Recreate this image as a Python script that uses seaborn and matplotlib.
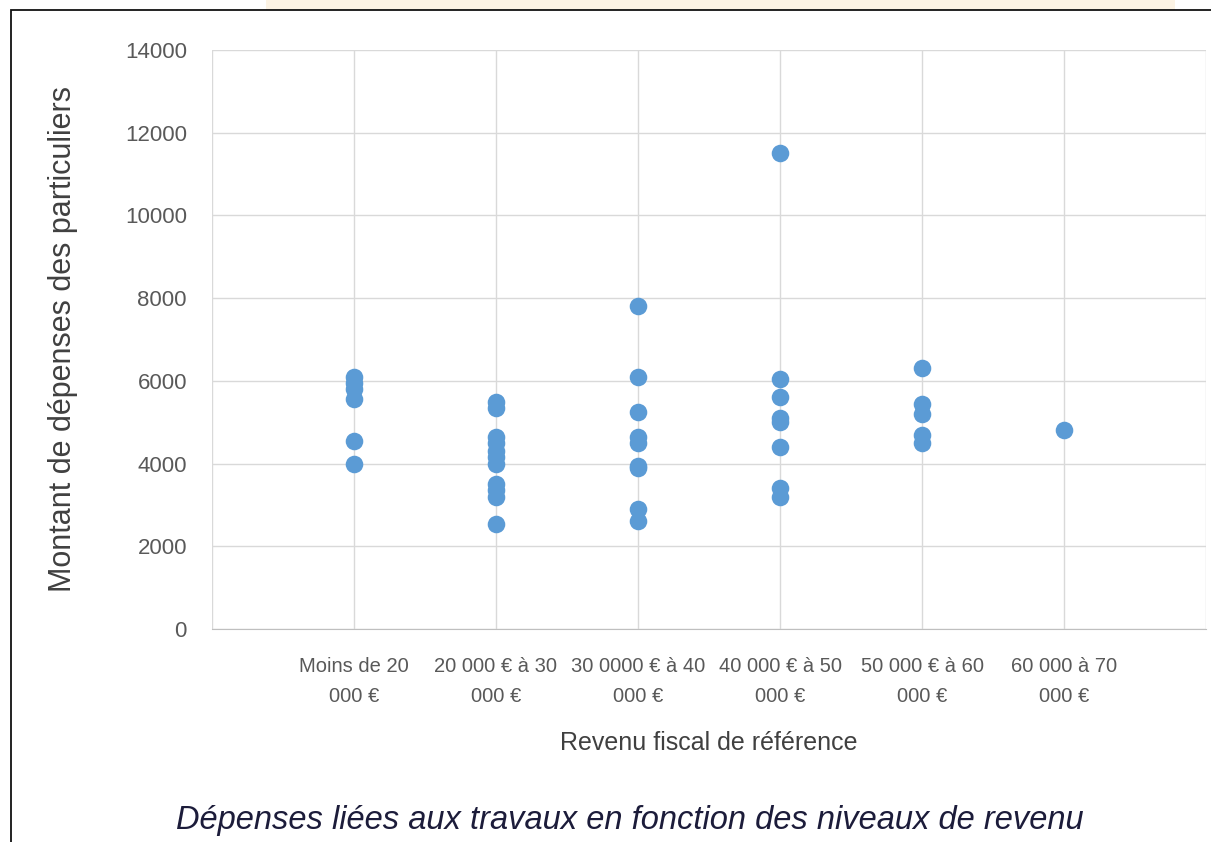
import pandas as pd
import matplotlib.pyplot as plt
import matplotlib.patches as patches
import seaborn as sns

# Income brackets (x categories) and spending values
categories = [
    'Moins de 20\n000 €',
    '20 000 € à 30\n000 €',
    '30 0000 € à 40\n000 €',
    '40 000 € à 50\n000 €',
    '50 000 € à 60\n000 €',
    '60 000 à 70\n000 €',
]
depenses_moins_20 = [6100, 5950, 5800, 5550, 4550, 4000]
depenses_20_30 = [5500, 5350, 4650, 4500, 4300, 4150, 4000, 3500, 3350, 3200, 2550]
depenses_30_40 = [7800, 6100, 5250, 4650, 4500, 3950, 3900, 2900, 2600]
depenses_40_50 = [11500, 6050, 5600, 5100, 5000, 4400, 3400, 3200]
depenses_50_60 = [6300, 5450, 5200, 4700, 4500]
depenses_60_70 = [4800]

series = [depenses_moins_20, depenses_20_30, depenses_30_40,
          depenses_40_50, depenses_50_60, depenses_60_70]

rows = []
for i, vals in enumerate(series):
    for v in vals:
        rows.append({'pos': i + 1, 'montant': v})
data = pd.DataFrame(rows)

sns.set_style('white')
plt.rcParams['font.family'] = ['Liberation Sans', 'DejaVu Sans']

fig = plt.figure(figsize=(12.11, 8.42), dpi=100)
ax = fig.add_axes([0.175, 0.253, 0.821, 0.6876])

sns.scatterplot(data=data, x='pos', y='montant', ax=ax, color='#5B9BD5',
                s=160, linewidth=0, zorder=3, legend=False)

ax.set_xlim(0, 7)
ax.set_ylim(0, 14000)
ax.set_yticks(range(0, 14001, 2000))
ax.set_xticks(range(0, 8))
ax.set_xticklabels([''] + categories + [''])
ax.tick_params(axis='both', length=0, colors='#595959')
ax.tick_params(axis='y', labelsize=16, pad=18)
ax.tick_params(axis='x', labelsize=14.5, pad=20)
for lbl in ax.get_xticklabels():
    lbl.set_linespacing(1.75)

ax.grid(True, color='#D9D9D9', linewidth=1)
ax.set_axisbelow(True)
for side in ['top', 'right', 'left']:
    ax.spines[side].set_visible(False)
ax.spines['bottom'].set_color('#BFBFBF')

ax.set_xlabel('Revenu fiscal de référence', fontsize=18, color='#404040', labelpad=18)
ax.set_ylabel('Montant de dépenses des particuliers', fontsize=22, color='#404040', labelpad=34)

# caption below the chart
fig.text(0.52, 0.026, 'Dépenses liées aux travaux en fonction des niveaux de revenu',
         ha='center', va='center', fontsize=23.5, style='italic', color='#1c1c3a')

# light band at the top and black frame around the chart
fig.patches.append(patches.Rectangle((0.22, 0.988), 0.75, 0.012, transform=fig.transFigure,
                                     facecolor='#FCF3E4', edgecolor='none'))
fig.patches.append(patches.Rectangle((0.009, -0.05), 1.05, 1.038, transform=fig.transFigure,
                                     facecolor='none', edgecolor='#111111', linewidth=1.3))

plt.savefig('out.png', dpi=100)
